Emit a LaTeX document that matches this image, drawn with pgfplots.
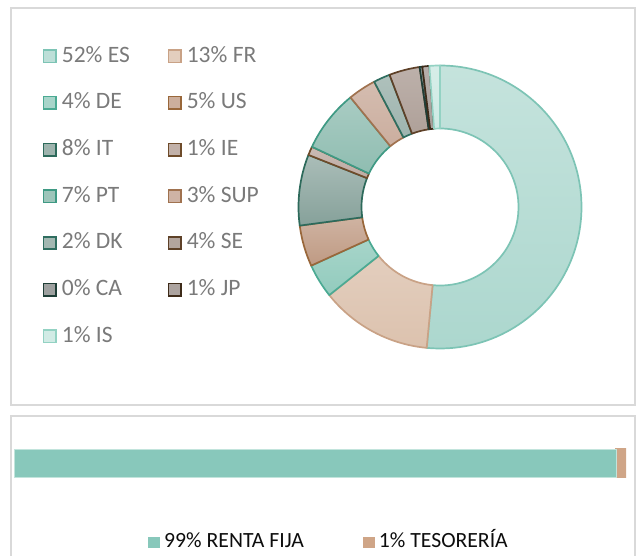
\documentclass[border=0pt]{standalone}
\usepackage{pgfplots}
\usepackage{pgfplotstable}
\pgfplotsset{compat=1.18}
\usepackage{fontspec}
\newfontfamily\carlito{Carlito}

\definecolor{boxgray}{HTML}{D9D9D9}
\definecolor{lgray}{HTML}{7A7A7A}
\definecolor{dtext}{HTML}{0D0D0D}
% donut fills (bottom of gradient) and edges
\definecolor{fES}{HTML}{ACD7CE}\definecolor{eES}{HTML}{7DC4B5}
\definecolor{fFR}{HTML}{DCC2AE}\definecolor{eFR}{HTML}{C9A286}
\definecolor{fDE}{HTML}{92CBBD}\definecolor{eDE}{HTML}{4BAA93}
\definecolor{fUS}{HTML}{BF9A83}\definecolor{eUS}{HTML}{99673A}
\definecolor{fIT}{HTML}{86A19A}\definecolor{eIT}{HTML}{2D6A5B}
\definecolor{fIE}{HTML}{B39D93}\definecolor{eIE}{HTML}{6E4B2A}
\definecolor{fPT}{HTML}{84B6A9}\definecolor{ePT}{HTML}{3F9A84}
\definecolor{fSUP}{HTML}{C2A08E}\definecolor{eSUP}{HTML}{A0724F}
\definecolor{fDK}{HTML}{8CA69F}\definecolor{eDK}{HTML}{2F6E60}
\definecolor{fSE}{HTML}{A08F86}\definecolor{eSE}{HTML}{5E4128}
\definecolor{fCA}{HTML}{868A88}\definecolor{eCA}{HTML}{1F3E37}
\definecolor{fJP}{HTML}{978C87}\definecolor{eJP}{HTML}{3E2B19}
\definecolor{fIS}{HTML}{C5E6DE}\definecolor{eIS}{HTML}{93D2C3}
\definecolor{barteal}{HTML}{88C8BB}
\definecolor{barteallt}{HTML}{C2E4DC}
\definecolor{bartan}{HTML}{CFA587}

\pgfplotstableread{
lab val fc ec
ES 51.5 fES eES
FR 12.8 fFR eFR
DE 3.9 fDE eDE
US 4.7 fUS eUS
IT 8.1 fIT eIT
IE 1.0 fIE eIE
PT 7.1 fPT ePT
SUP 3.2 fSUP eSUP
DK 1.9 fDK eDK
SE 3.5 fSE eSE
CA 0.3 fCA eCA
JP 0.8 fJP eJP
IS 1.2 fIS eIS
}\donut

\begin{document}
\begin{tikzpicture}[x=1pt,y=1pt]
\useasboundingbox (0,0) rectangle (637,-556);
\draw[boxgray, line width=2pt] (11,-8) rectangle (635,-405);
\draw[boxgray, line width=2pt] (11,-416) rectangle (635,-600);

% ---------------- donut ----------------
\begin{axis}[
  at={(440pt,-207pt)}, anchor=origin,
  hide axis, scale only axis,
  x=1pt, y=1pt, xmin=-150, xmax=150, ymin=-150, ymax=150,
  legend columns=2,
  legend cell align=left,
  legend image code/.code={\filldraw[#1,line width=1.6pt] (0.8pt,-6.2pt) rectangle (13.2pt,6.2pt);},
  legend style={draw=none, fill=none, inner sep=0pt,
    at={(-0.8245,1.0367)}, anchor=north west,
    row sep=26.7pt,
    font=\carlito\fontsize{23.5pt}{28pt}\selectfont,
    nodes={inner xsep=0pt, inner ysep=0pt, text height=16pt, text depth=4pt, text=lgray},
    /tikz/every odd column/.style={column sep=5pt},
    /tikz/every even column/.style={column sep=38pt}},
]
\xdef\cum{0}
\pgfplotsinvokeforeach{0,...,12}{%
  \pgfplotstablegetelem{#1}{val}\of\donut \let\sval=\pgfplotsretval
  \pgfplotstablegetelem{#1}{fc}\of\donut \let\fcol=\pgfplotsretval
  \pgfplotstablegetelem{#1}{ec}\of\donut \let\ecol=\pgfplotsretval
  \pgfmathsetmacro\sA{90-3.6*\cum}%
  \pgfmathsetmacro\eA{90-3.6*(\cum+\sval)}%
  \pgfmathsetmacro\newcum{\cum+\sval}%
  \xdef\cum{\newcum}%
  \edef\tmp{\noexpand\filldraw[top color=\fcol!70!white, bottom color=\fcol, draw=\ecol, line width=1.7pt, line join=round]
    (axis cs:0,0) ++(\sA:141.5pt) arc[start angle=\sA, end angle=\eA, radius=141.5pt]
    -- ++(\eA:-63pt) arc[start angle=\eA, end angle=\sA, radius=78.5pt] -- cycle;}%
  \tmp
}
\addlegendimage{fill=fES!80!white, draw=eES}\addlegendentry{52\% ES}
\addlegendimage{fill=fFR!80!white, draw=eFR}\addlegendentry{13\% FR}
\addlegendimage{fill=fDE!80!white, draw=eDE}\addlegendentry{4\% DE}
\addlegendimage{fill=fUS!80!white, draw=eUS}\addlegendentry{5\% US}
\addlegendimage{fill=fIT!80!white, draw=eIT}\addlegendentry{8\% IT}
\addlegendimage{fill=fIE!80!white, draw=eIE}\addlegendentry{1\% IE}
\addlegendimage{fill=fPT!80!white, draw=ePT}\addlegendentry{7\% PT}
\addlegendimage{fill=fSUP!80!white, draw=eSUP}\addlegendentry{3\% SUP}
\addlegendimage{fill=fDK!80!white, draw=eDK}\addlegendentry{2\% DK}
\addlegendimage{fill=fSE!80!white, draw=eSE}\addlegendentry{4\% SE}
\addlegendimage{fill=fCA!80!white, draw=eCA}\addlegendentry{0\% CA}
\addlegendimage{fill=fJP!80!white, draw=eJP}\addlegendentry{1\% JP}
\addlegendimage{fill=fIS!80!white, draw=eIS}\addlegendentry{1\% IS}
\end{axis}

% ---------------- bar ----------------
\begin{axis}[
  at={(14pt,-463pt)}, anchor=origin,
  hide axis, scale only axis,
  x=6.12pt, y=30pt, xmin=0, xmax=100, ymin=-1, ymax=1,
  xbar stacked, bar width=28pt,
  mysq/.style={legend image code/.code={\fill[##1,draw=none] (0pt,-5.5pt) rectangle (12pt,5.5pt);}},
  legend columns=2,
  legend cell align=left,
  legend style={draw=none, fill=none, inner sep=0pt,
    at={(0.219,-0.8167)}, anchor=west,
    font=\carlito\fontsize{21.7pt}{25pt}\selectfont,
    nodes={inner xsep=0pt, inner ysep=0pt, text height=15pt, text depth=4pt, text=dtext},
    /tikz/every odd column/.style={column sep=4pt},
    /tikz/every even column/.style={column sep=59pt}},
]
\addplot[fill=barteal, draw=barteallt, line width=1pt, forget plot] coordinates {(98.4,0)};
\addplot[fill=bartan, draw=bartan, line width=1.6pt, forget plot] coordinates {(1.6,0)};
\addlegendimage{mysq, fill=barteal}\addlegendentry{99\% RENTA FIJA}
\addlegendimage{mysq, fill=bartan}\addlegendentry{1\% TESORERÍA}
\end{axis}
\end{tikzpicture}
\end{document}
